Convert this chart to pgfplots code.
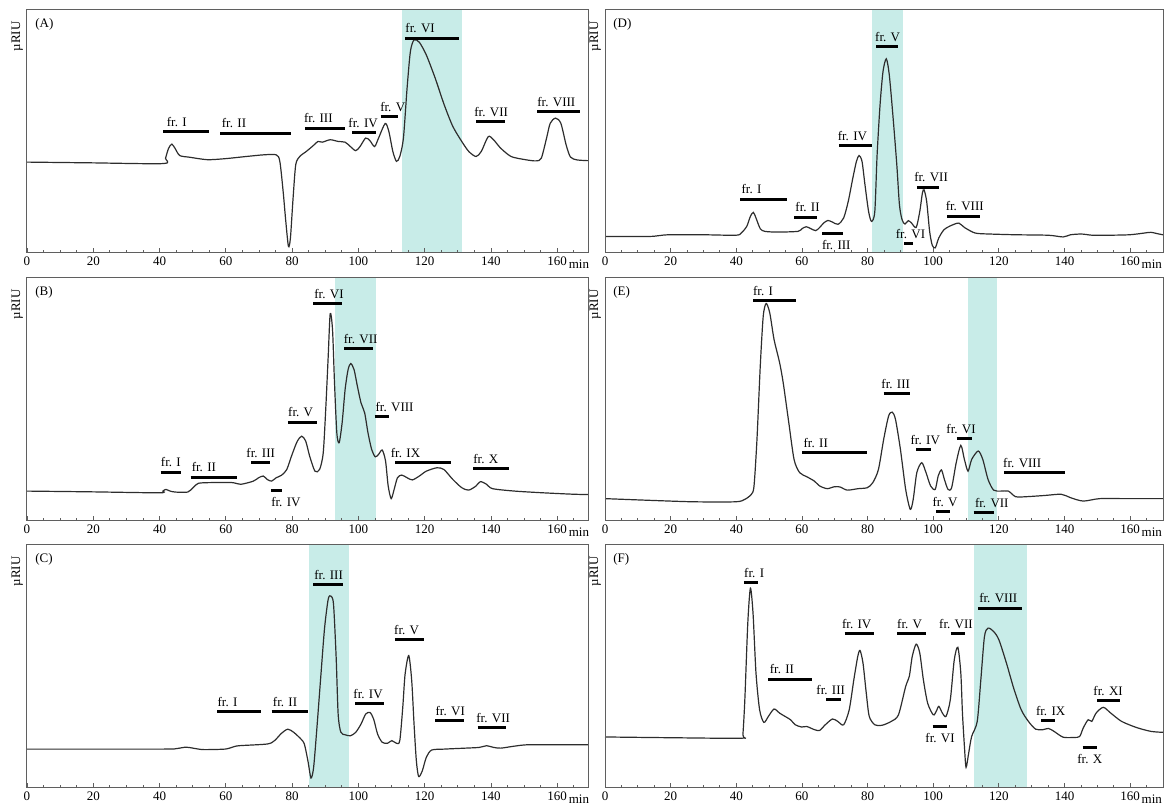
\documentclass[border=0pt]{standalone}
\usepackage{fontspec}
\setmainfont{Liberation Serif}
\usepackage{pgfplots}
\pgfplotsset{compat=1.18}

\definecolor{fracshade}{RGB}{200,236,232}
\definecolor{tracec}{RGB}{45,45,45}
\definecolor{framec}{RGB}{95,95,95}

\tikzset{
  bar/.style={line width=1.5pt, black},
  frlab/.style={inner sep=0pt, font=\fontsize{6.5}{7.5}\selectfont},
}

% one fraction bar with its label above / below
\newcommand{\frbar}[5]{%
  \draw[bar] (axis cs:#1,#3) -- (axis cs:#2,#3);
  \node[frlab, anchor=base west, yshift=2.6pt] at (axis cs:#4,#3) {#5};}
\newcommand{\frbarb}[5]{%
  \draw[bar] (axis cs:#1,#3) -- (axis cs:#2,#3);
  \node[frlab, anchor=north west, yshift=-3.2pt] at (axis cs:#4,#3) {#5};}

\pgfplotsset{
  chrom/.style={
    scale only axis, height=121.5pt,
    xmin=0, ymin=0, ymax=100,
    axis line style={framec, line width=0.5pt},
    xtick={0,20,...,160}, minor xtick={5,10,...,165},
    xtick pos=lower, ytick=\empty,
    tick align=inside,
    major tick length=2.6pt, minor tick length=1.4pt,
    tick style={framec, line width=0.4pt},
    xticklabel style={font=\fontsize{6.5}{7.5}\selectfont, inner sep=1pt, yshift=-0.5pt},
    /pgf/number format/assume math mode=true,
    clip=false, axis on top,
  },
  leftcol/.style={chrom, width=280.5pt, xmax=169.3},
  rightcol/.style={chrom, width=279pt, xmax=170},
  chromtrace/.style={draw=tracec, line width=0.6pt, smooth, tension=0.45, mark=none},
}

% panel decorations: letter, unit label, time label
\newcommand{\panel}[1]{%
  \node[frlab, anchor=north west] at ([xshift=4pt, yshift=-4pt]rel axis cs:0,1) {(#1)};
  \node[frlab, rotate=90, anchor=south east] at ([xshift=-1.8pt, yshift=-5.5pt]rel axis cs:0,1) {µRIU};
  \node[frlab, anchor=north west] at ([yshift=-3.4pt]axis cs:163.4,0) {min};}

\begin{document}
\fontsize{6.5}{7.5}\selectfont
\begin{tikzpicture}
\path (0,0) rectangle (586.5pt,403.5pt);

% ---------------- (A) ----------------
\begin{axis}[leftcol, at={(13.5pt,277pt)}, anchor=south west]
\fill[fracshade] (axis cs:113.2,0) rectangle (axis cs:131.4,100);
\addplot[chromtrace] coordinates {
(0,37.4) (19.2,37.1) (41.1,36.8) (41.8,39) (42.7,43) (43.7,44.8) (44.7,43) (46.1,40.1)
(49.1,39.4) (54.4,38.4) (59.7,38.8) (66.1,39.7) (71.5,40.4) (75.2,40.4) (76.3,37.7)
(77.3,25.3) (78.1,13) (78.9,2.7) (79.5,6.2) (80.3,22.6) (81.1,36.3) (82.3,39.7)
(84.3,41.8) (86.4,44.2) (87.8,45.9) (89.1,45.6) (91.5,46.6) (93.9,45.9) (96.0,45.6)
(97.6,43.8) (99.2,42.1) (100.5,43.8) (102.2,47.3) (103.5,46.2) (104.9,43.8) (106.1,47.3)
(108.1,53.3) (109.2,50) (110.4,41.8) (111.5,37.7) (112.5,39.7) (113.6,47.3) (114.7,67.8)
(115.7,82.9) (116.8,87.7) (118.4,86.7) (120.5,81.5) (123.2,71.9) (125.9,61.0) (128.5,52.1)
(131.2,45.9) (133.3,41.8) (135.5,39.7) (137.1,41.8) (139.2,47.9) (140.8,46.6) (142.9,43.2)
(146.1,39.7) (150.4,38.4) (153.6,37.9) (155.2,39.0) (156.8,47.3) (157.9,53.4) (159.5,55.5)
(161.1,53.4) (162.7,44.5) (164,39.5) (166,38.3) (169.3,38.0)};
\frbar{41.1}{54.9}{50.0}{42.1}{fr. I}
\frbar{58.3}{79.7}{49.3}{58.7}{fr. II}
\frbar{83.9}{96.0}{51.4}{83.5}{fr. III}
\frbar{98.1}{105.3}{49.7}{96.9}{fr. IV}
\frbar{106.7}{112.0}{56.0}{106.5}{fr. V}
\frbar{114.1}{130.3}{88.4}{114.1}{fr. VI}
\frbar{135.5}{144.2}{54.0}{134.9}{fr. VII}
\frbar{154.0}{167.0}{58.2}{153.9}{fr. VIII}
\panel{A}
\end{axis}

% ---------------- (B) ----------------
\begin{axis}[leftcol, at={(13.5pt,143pt)}, anchor=south west]
\fill[fracshade] (axis cs:93.0,0) rectangle (axis cs:105.3,100);
\addplot[chromtrace] coordinates {
(0,12.3) (19.2,12.0) (40,11.6) (41,12.3) (41.9,13.0) (43.2,12.3) (44.8,11.9) (48.5,11.9)
(50.1,13.7) (51.7,15.5) (55.5,15.8) (61.9,15.8) (64.5,15.1) (68.3,16.4) (69.9,17.8)
(71.3,18.5) (72.5,17.1) (73.8,16.4) (75.2,17.8) (76.8,18.8) (78.4,21.2) (80.0,27.4)
(81.6,32.9) (82.9,34.9) (84.1,32.9) (85.3,26.7) (86.9,20.5) (88.3,21.2) (89.4,28.1)
(90.2,47.3) (90.9,67.8) (91.5,85.3) (92.2,78.8) (92.8,56.8) (93.5,36.3) (94.2,32.2)
(95.1,40.4) (96.0,54.1) (96.9,62.3) (97.7,64.8) (98.7,62.3) (99.7,55.5) (100.8,48.6)
(101.9,44.5) (102.9,36.3) (104.0,29.5) (105.1,26.4) (106.1,27.4) (107.2,29.2) (108.2,24.7)
(109.0,14.4) (109.9,9.2) (110.8,13.0) (111.8,17.8) (113.1,18.9) (114.7,17.8) (116.3,16.9)
(118.4,18.5) (120.5,20.5) (123.7,21.9) (125.8,21.2) (128.5,17.1) (131.2,13.7) (133.3,12.7)
(135.5,14.4) (136.8,16.2) (138.7,15.1) (140.5,13.3) (147.2,12.3) (155.7,11.6) (165.1,11.0)
(169.3,10.9)};
\frbar{40.3}{46.6}{20.1}{40.3}{fr. I}
\frbar{49.4}{63.5}{18.1}{49.6}{fr. II}
\frbar{67.7}{73.3}{24.0}{66.1}{fr. III}
\frbarb{73.6}{77.0}{12.7}{73.6}{fr. IV}
\frbar{78.7}{87.5}{40.7}{78.7}{fr. V}
\frbar{86.4}{95.1}{89.5}{86.6}{fr. VI}
\frbar{95.8}{104.5}{70.8}{95.5}{fr. VII}
\frbar{104.9}{109.1}{42.9}{105.1}{fr. VIII}
\frbar{111.1}{128.0}{24.0}{109.7}{fr. IX}
\frbar{134.7}{145.4}{21.6}{134.6}{fr. X}
\panel{B}
\end{axis}

% ---------------- (C) ----------------
\begin{axis}[leftcol, at={(13.5pt,9.5pt)}, anchor=south west]
\fill[fracshade] (axis cs:85.0,0) rectangle (axis cs:97.3,100);
\addplot[chromtrace] coordinates {
(0,16.0) (40.5,16.0) (45,16.2) (48.0,16.8) (50.5,16.3) (53.3,15.8) (59.7,16.0) (62,16.8)
(64.0,17.4) (72.5,18.1) (74.7,19.5) (76.8,22.5) (78.7,24.2) (80.5,22.9) (82.7,20.1)
(83.7,18.1) (84.8,11.0) (85.7,4.1) (86.5,8.5) (87.5,24.9) (88.7,46.6) (89.8,65.8)
(90.9,77.7) (91.7,79.0) (92.5,75.6) (93.3,53.7) (93.9,30.4) (94.7,23.0) (96.0,21.9)
(97.6,21.5) (99.2,22.9) (100.8,26.3) (102.2,30.4) (103.5,31.1) (104.6,28.4) (105.8,22.2)
(107.2,18.8) (108.8,18.4) (110.1,19.5) (111.5,18.4) (112.5,19.5) (113.4,33.2) (114.1,46.8)
(115.2,54.5) (116.1,44.2) (116.8,26.4) (117.5,11.2) (118.2,4.7) (119.3,7.1) (120.5,12.6)
(122.1,15.6) (125.9,16.0) (132.3,16.4) (136.5,16.7) (138.7,17.4) (140.8,16.7) (143.0,16.4)
(147,17.2) (151.5,17.8) (165.1,17.8) (169.3,17.8)};
\frbar{57.4}{70.6}{31.4}{57.4}{fr. I}
\frbar{73.8}{84.8}{31.4}{74.1}{fr. II}
\frbar{86.4}{95.5}{83.8}{86.6}{fr. III}
\frbar{99.0}{107.7}{34.7}{98.4}{fr. IV}
\frbar{111.0}{119.7}{61.2}{110.7}{fr. V}
\frbar{123.2}{131.9}{27.7}{123.2}{fr. VI}
\frbar{136.0}{144.7}{24.9}{135.5}{fr. VII}
\panel{C}
\end{axis}

% ---------------- (D) ----------------
\begin{axis}[rightcol, at={(302.5pt,277pt)}, anchor=south west]
\fill[fracshade] (axis cs:81.2,0) rectangle (axis cs:90.7,100);
\addplot[chromtrace] coordinates {
(0,6.8) (13.6,6.8) (19.2,7.5) (30,7.5) (39.8,7.3) (41.5,8.2) (43.2,11.0) (44.3,15.1)
(45.2,16.7) (46.0,14.4) (47.3,10.0) (48.7,8.9) (52.6,8.6) (58.8,8.9) (60.0,10.0)
(61.3,10.8) (62.7,10.0) (64.2,9.2) (65.4,10.5) (66.6,12.3) (67.9,13.4) (69.3,12.7)
(71.0,11.8) (72.7,14.4) (74.1,21.2) (75.5,30.8) (76.6,37.7) (77.4,40.1) (78.3,37.7)
(79.2,28.1) (80.3,17.1) (81.2,13.0) (82.2,17.1) (82.9,40.4) (83.8,61.0) (84.7,74.7)
(85.7,79.9) (86.6,73.4) (87.7,56.8) (88.9,36.3) (89.7,19.9) (90.5,13.7) (91.4,11.9)
(92.4,13.3) (93.4,12.3) (94.8,10.5) (95.9,17.1) (96.7,24.7) (97.2,26.0) (98.0,21.2)
(98.9,8.9) (99.7,3.2) (100.6,2.1) (101.7,6.2) (103.3,9.6) (105.6,11.4) (107.8,12.3)
(109.5,10.5) (112.8,8.2) (117.3,7.8) (125.1,7.5) (135.1,7.3) (139.6,6.6) (141.8,7.5)
(145.2,7.8) (148.5,7.3) (153.1,7.3) (159.8,7.5) (164.3,8.2) (166.3,8.5) (168.8,7.8)
(170,7.5)};
\frbar{41.2}{55.4}{22.2}{41.5}{fr. I}
\frbar{57.6}{64.7}{14.8}{57.9}{fr. II}
\frbarb{66.2}{72.5}{8.2}{66.0}{fr. III}
\frbar{71.3}{81.4}{44.1}{70.8}{fr. IV}
\frbar{82.7}{89.4}{84.8}{82.2}{fr. V}
\frbar{91.1}{93.9}{3.8}{88.5}{fr. VI}
\frbar{95.0}{101.7}{27.1}{94.1}{fr. VII}
\frbar{104.2}{114.3}{15.2}{103.7}{fr. VIII}
\panel{D}
\end{axis}

% ---------------- (E) ----------------
\begin{axis}[rightcol, at={(302.5pt,143pt)}, anchor=south west]
\fill[fracshade] (axis cs:110.7,0) rectangle (axis cs:119.4,100);
\addplot[chromtrace] coordinates {
(0,9.2) (13.6,8.5) (27.0,7.9) (39.8,7.9) (42.6,8.9) (44.6,11.0) (45.4,14.4) (46.3,33.6)
(47.3,63.7) (48.2,84.2) (49.1,89.5) (50.2,85.6) (51.5,74.7) (53.2,65.1) (54.3,56.8)
(56.0,40.4) (57.6,25.3) (59.3,19.9) (61.5,18.2) (63.8,16.4) (65.4,14.4) (67.7,13.3)
(69.9,14.1) (71.6,14.0) (73.8,12.7) (77.1,13.3) (79.9,13.7) (81.6,15.8) (83.3,21.2)
(84.9,33.6) (86.4,43.2) (87.5,44.8) (88.5,41.8) (90.0,29.5) (91.6,13.0) (93.0,4.8)
(93.9,8.9) (95.0,19.9) (96.5,24.0) (97.8,19.9) (99.2,14.4) (100.6,13.0) (101.5,18.5)
(102.5,21.0) (103.4,17.1) (104.5,13.0) (105.6,13.7) (107.0,24.0) (108.4,31.1) (109.5,25.3)
(110.6,20.5) (111.7,25.3) (113.7,28.8) (115.1,25.3) (116.7,17.1) (118.4,12.7) (120.6,12.3)
(122.9,12.3) (125.1,10.0) (128.4,10.0) (134.0,10.5) (139.0,11.0) (141.8,9.6) (145.7,8.2)
(150.7,9.2) (158.5,9.2) (170,9.2)};
\frbar{45.2}{58.2}{90.7}{45.0}{fr. I}
\frbar{60.1}{79.7}{28.1}{60.4}{fr. II}
\frbar{84.9}{93.0}{52.5}{84.1}{fr. III}
\frbar{94.8}{99.2}{29.5}{93.0}{fr. IV}
\frbar{100.9}{105.2}{3.7}{99.7}{fr. V}
\frbar{107.2}{111.7}{34.0}{103.9}{fr. VI}
\frbar{112.3}{118.4}{3.4}{112.6}{fr. VII}
\frbar{121.5}{140.1}{19.9}{121.2}{fr. VIII}
\panel{E}
\end{axis}

% ---------------- (F) ----------------
\begin{axis}[rightcol, at={(302.5pt,9.5pt)}, anchor=south west]
\fill[fracshade] (axis cs:112.4,0) rectangle (axis cs:128.5,100);
\addplot[chromtrace] coordinates {
(0,21.0) (19.2,20.7) (41.5,20.5) (42.0,21.9) (42.6,36.3) (43.5,67.8) (44.3,82.2)
(45.1,71.9) (46.0,47.3) (47.1,32.2) (48.4,27.0) (49.8,29.5) (51.5,32.5) (53.2,30.8)
(54.8,29.5) (56.5,28.1) (58.0,26.0) (59.9,25.1) (61.5,25.3) (63.8,24.0) (65.4,23.7)
(67.1,26.0) (69.3,28.4) (70.9,27.4) (72.7,26.0) (74.4,32.2) (75.8,44.5) (77.0,54.1)
(77.7,56.6) (78.6,51.4) (79.6,39.0) (80.5,29.5) (82.2,26.0) (84.4,25.8) (87.2,27.4)
(89.4,30.1) (91.6,41.8) (92.7,45.9) (93.6,54.1) (94.8,59.2) (95.9,55.5) (97.0,44.5)
(98.3,34.9) (100.0,30.1) (100.9,31.5) (101.7,33.6) (102.8,30.8) (103.9,29.5) (105.2,36.3)
(106.4,52.7) (107.5,57.9) (108.4,47.3) (108.9,30.8) (109.5,17.1) (110.0,8.5) (110.8,14.4)
(111.7,21.2) (113.4,27.4) (114.5,44.5) (115.6,62.3) (116.7,65.8) (118.4,64.4) (120.0,61.0)
(122.3,51.4) (124.5,41.1) (126.8,32.2) (129.0,27.4) (131.2,24.2) (133.4,24.0) (135.1,24.5)
(136.8,23.3) (139.6,20.9) (142.9,20.8) (144.6,21.2) (145.7,24.7) (147.2,28.1) (148.3,27.4)
(149.6,30.8) (151.8,33.2) (154.1,30.8) (157.4,27.4) (161.9,24.9) (166.3,23.3) (170,22.9)};
\frbar{42.3}{46.5}{84.5}{42.3}{fr. I}
\frbar{49.8}{63.0}{44.8}{50.1}{fr. II}
\frbar{67.4}{71.9}{36.3}{64.3}{fr. III}
\frbar{73.0}{81.8}{63.4}{72.1}{fr. IV}
\frbar{89.1}{97.8}{63.4}{88.9}{fr. V}
\frbarb{99.8}{104.1}{25.1}{97.5}{fr. VI}
\frbar{105.4}{109.7}{63.4}{101.7}{fr. VII}
\frbar{113.7}{127.0}{74.0}{113.9}{fr. VIII}
\frbar{132.9}{137.1}{27.7}{131.2}{fr. IX}
\frbarb{145.5}{149.8}{16.8}{143.8}{fr. X}
\frbar{149.9}{156.9}{36.0}{148.7}{fr. XI}
\panel{F}
\end{axis}
\end{tikzpicture}
\end{document}
